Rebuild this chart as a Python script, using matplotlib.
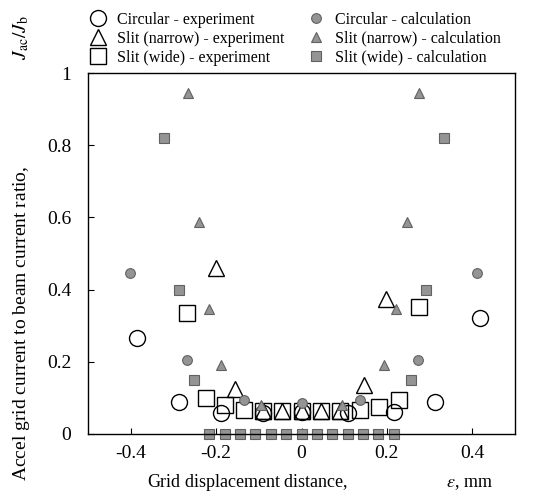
import matplotlib
matplotlib.use("Agg")
import matplotlib.pyplot as plt
from matplotlib.ticker import FuncFormatter

plt.rcParams['font.family'] = ['Liberation Serif', 'DejaVu Serif']
plt.rcParams['mathtext.fontset'] = 'stix'
plt.rcParams['axes.unicode_minus'] = False

# 圆孔 - 实验
circ_exp_x = [-0.385, -0.287, -0.188, -0.09, 0.0, 0.11, 0.216, 0.313, 0.419]
circ_exp_y = [0.265, 0.09, 0.058, 0.058, 0.06, 0.058, 0.06, 0.09, 0.32]
# 窄缝 - 实验
tri_exp_x = [-0.2, -0.155, -0.09, -0.045, 0.0, 0.045, 0.09, 0.146, 0.198]
tri_exp_y = [0.46, 0.125, 0.065, 0.065, 0.065, 0.065, 0.065, 0.135, 0.374]
# 宽缝 - 实验
sq_exp_x = [-0.268, -0.224, -0.18, -0.134, -0.09, -0.045, 0.0, 0.045, 0.09, 0.136, 0.181, 0.228, 0.275]
sq_exp_y = [0.335, 0.10, 0.08, 0.066, 0.064, 0.064, 0.064, 0.064, 0.064, 0.066, 0.075, 0.094, 0.352]

# 圆孔 - 计算
circ_calc_x = [-0.402, -0.268, -0.134, 0.002, 0.136, 0.273, 0.412]
circ_calc_y = [0.446, 0.205, 0.095, 0.085, 0.095, 0.205, 0.446]
# 窄缝 - 计算
tri_calc_x = [-0.266, -0.24, -0.217, -0.188, -0.094, 0.094, 0.193, 0.221, 0.247, 0.275]
tri_calc_y = [0.944, 0.588, 0.345, 0.19, 0.08, 0.08, 0.19, 0.345, 0.588, 0.944]
# 宽缝 - 计算
sq_calc_x = [-0.322, -0.287, -0.252, -0.216, -0.18, -0.144, -0.108, -0.072, -0.036, 0.0,
             0.036, 0.072, 0.108, 0.144, 0.18, 0.216, 0.256, 0.292, 0.334]
sq_calc_y = [0.82, 0.40, 0.15, 0, 0, 0, 0, 0, 0, 0, 0, 0, 0, 0, 0, 0, 0.15, 0.40, 0.82]

x_ticks = [-0.4, -0.2, 0, 0.2, 0.4]
y_ticks = [0, 0.2, 0.4, 0.6, 0.8, 1]

fig = plt.figure(figsize=(5.54, 4.97), dpi=100)
ax = fig.add_axes([88/554, 1-434/497, (515-88)/554, (434-73)/497])

gray_fc = '0.58'
gray_ec = '0.38'

h1, = ax.plot(circ_exp_x, circ_exp_y, 'o', ms=11.5, mfc='white', mec='black', mew=1.0, ls='none',
              label='Circular - experiment')
h2, = ax.plot(tri_exp_x, tri_exp_y, '^', ms=12, mfc='none', mec='black', mew=1.0, ls='none',
              label='Slit (narrow) - experiment')
h3, = ax.plot(sq_exp_x, sq_exp_y, 's', ms=11, mfc='none', mec='black', mew=1.0, ls='none',
              label='Slit (wide) - experiment')
h4, = ax.plot(circ_calc_x, circ_calc_y, 'o', ms=7, mfc=gray_fc, mec=gray_ec, mew=0.8, ls='none',
              label='Circular - calculation')
h5, = ax.plot(tri_calc_x, tri_calc_y, '^', ms=7, mfc=gray_fc, mec=gray_ec, mew=0.8, ls='none',
              label='Slit (narrow) - calculation')
h6, = ax.plot(sq_calc_x, sq_calc_y, 's', ms=7, mfc=gray_fc, mec=gray_ec, mew=0.8, ls='none',
              label='Slit (wide) - calculation', clip_on=False)

ax.set_xlim(-0.5, 0.5)
ax.set_ylim(0, 1)
ax.set_xticks(x_ticks)
ax.set_yticks(y_ticks)
fmt = FuncFormatter(lambda v, p: '%g' % v)
ax.xaxis.set_major_formatter(fmt)
ax.yaxis.set_major_formatter(fmt)
ax.tick_params(direction='in', length=4, width=0.8, labelsize=14)
ax.tick_params(axis='y', pad=12)
ax.tick_params(axis='x', pad=8)
for s in ax.spines.values():
    s.set_linewidth(1.0)

ax.set_xlabel('Grid displacement distance,' + ' ' * 22 + '$\\varepsilon$, mm', fontsize=13)
ax.xaxis.set_label_coords(0.543, -0.105)
ax.set_ylabel('Accel grid current to beam current ratio,' + ' ' * 22 + '$J_{\\rm ac}/J_{\\rm b}$',
              fontsize=14)
ax.yaxis.set_label_coords(-0.13, 0.515)

fig.legend(handles=[h1, h2, h3, h4, h5, h6], loc='upper left', ncol=2, frameon=False,
           bbox_to_anchor=(80/554, 1-4/497), fontsize=11.5, handletextpad=0.6,
           columnspacing=1.4, labelspacing=0.18, borderpad=0, handlelength=1.2)

fig.savefig('out.png', dpi=100)
